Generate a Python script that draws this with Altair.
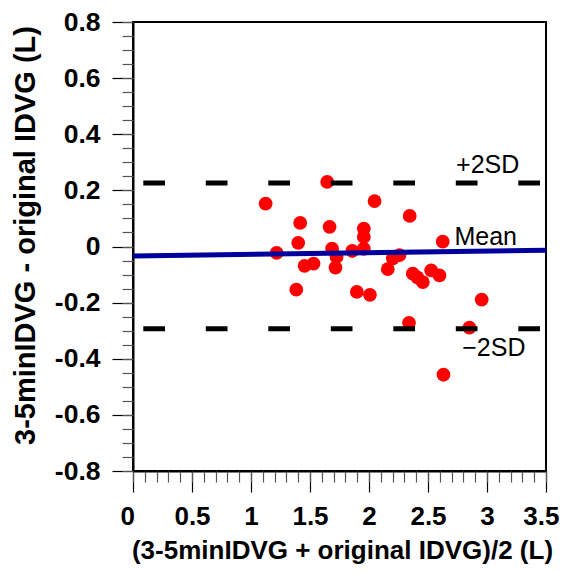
import altair as alt
import pandas as pd

# Bland-Altman points: mean of methods (x) vs difference (y)
mean_x = [1.124, 1.646, 2.047, 2.345, 1.417, 1.666, 1.956, 1.956, 1.400, 2.625,
          1.217, 1.687, 1.858, 1.956, 1.725, 2.202, 2.258, 1.454, 1.530, 1.716,
          2.159, 2.371, 2.456, 2.527, 2.597, 2.410, 1.384, 1.897, 2.008, 2.955,
          2.339, 2.851, 2.631]
diff_y = [0.153, 0.230, 0.162, 0.109, 0.084, 0.070, 0.064, 0.034, 0.013, 0.017,
          -0.023, -0.008, -0.016, -0.008, -0.037, -0.042, -0.031, -0.069, -0.061, -0.075,
          -0.081, -0.097, -0.127, -0.085, -0.103, -0.110, -0.154, -0.162, -0.172, -0.189,
          -0.272, -0.289, -0.457]

sd_upper = 0.226
sd_lower = -0.293
line_x = [0.0, 3.5]
mean_line_y = [-0.034, -0.0135]

label_text = ["+2SD", "Mean", "\u22122SD"]
label_x = [2.738, 2.724, 2.79]
label_y = [0.289, 0.034, -0.363]

x_major_ticks = [0, 0.5, 1, 1.5, 2, 2.5, 3, 3.5]
x_minor_ticks = [round(i * 0.1, 1) for i in range(36)]
y_major_ticks = [-0.8, -0.6, -0.4, -0.2, 0, 0.2, 0.4, 0.6, 0.8]
y_minor_ticks = [round(-0.8 + i * 0.05, 2) for i in range(33)]

pts = pd.DataFrame({"x": mean_x, "y": diff_y})
mean_df = pd.DataFrame({"x": line_x, "y": mean_line_y})
sd_df = pd.DataFrame({"x": [line_x[0], line_x[0]], "x2": [line_x[1], line_x[1]],
                      "y": [sd_upper, sd_lower]})
lab_df = pd.DataFrame({"x": label_x, "y": label_y, "t": label_text})

xs = alt.Scale(domain=[0, 3.5], nice=False, zero=False)
ys = alt.Scale(domain=[-0.8, 0.8], nice=False, zero=False)

x_axis = alt.Axis(
    orient="bottom",
    values=x_major_ticks,
    title="(3-5minIDVG + original IDVG)/2 (L)",
    labelExpr="'' + round(datum.value*10)/10",
    tickSize=21, tickColor="black", tickWidth=1.2,
    labelPadding=11,
    labelFont="Liberation Sans", labelFontWeight="bold", labelFontSize=26,
    labelColor="black", labelFlush=True, labelFlushOffset=13, labelOverlap=False,
    titleFont="Liberation Sans", titleFontWeight="bold", titleFontSize=26,
    titleColor="black", titleX=209, titleY=79, titleBaseline="middle",
    titleAlign="center",
    domainColor="black", domainWidth=2, grid=False,
)
y_axis = alt.Axis(
    orient="left",
    values=y_major_ticks,
    title="3-5minIDVG - original IDVG (L)",
    labelExpr="'' + round(datum.value*10)/10",
    tickSize=21, tickColor="black", tickWidth=1.2,
    labelPadding=12,
    labelFont="Liberation Sans", labelFontWeight="bold", labelFontSize=26.5,
    labelColor="black", labelFlush=False, labelOverlap=False,
    titleFont="Liberation Sans", titleFontWeight="bold", titleFontSize=29,
    titleColor="black", titleX=-108, titleY=213, titleBaseline="middle",
    titleAlign="center", titleAngle=270,
    domainColor="black", domainWidth=2, grid=False,
)
x_minor_axis = alt.Axis(
    orient="bottom", values=x_minor_ticks, labels=False, title=None,
    tickSize=11, tickColor="#555555", tickWidth=1.2, domain=False, grid=False,
)
y_minor_axis = alt.Axis(
    orient="left", values=y_minor_ticks, labels=False, title=None,
    tickSize=11, tickColor="#555555", tickWidth=1.2, domain=False, grid=False,
)

points = alt.Chart(pts).mark_circle(size=190, color="#FF0000", opacity=1).encode(
    x=alt.X("x:Q", scale=xs, axis=x_axis),
    y=alt.Y("y:Q", scale=ys, axis=y_axis),
)

sd_lines = alt.Chart(sd_df).mark_rule(
    color="black", strokeWidth=5, strokeDash=[21.7, 40.8], strokeDashOffset=52.2
).encode(
    x=alt.X("x:Q", scale=xs, axis=x_minor_axis),
    x2="x2:Q",
    y=alt.Y("y:Q", scale=ys, axis=y_minor_axis),
)

mean_line = alt.Chart(mean_df).mark_line(color="#00009C", strokeWidth=5).encode(
    x=alt.X("x:Q", scale=xs, axis=None),
    y=alt.Y("y:Q", scale=ys, axis=None),
)

labels = alt.Chart(lab_df).mark_text(
    font="Liberation Sans", fontSize=25, align="left", baseline="middle", color="black"
).encode(
    x=alt.X("x:Q", scale=xs, axis=None),
    y=alt.Y("y:Q", scale=ys, axis=None),
    text="t:N",
)

chart = alt.layer(points, sd_lines, mean_line, labels).resolve_axis(
    x="independent", y="independent"
).properties(
    width=413, height=449,
    autosize=alt.AutoSizeParams(type="none"),
    padding={"left": 125, "top": 14, "right": 22, "bottom": 95},
    background="white",
).configure_view(stroke="black", strokeWidth=2)

chart.save("out.html", embed_options={"renderer": "svg", "actions": False})
